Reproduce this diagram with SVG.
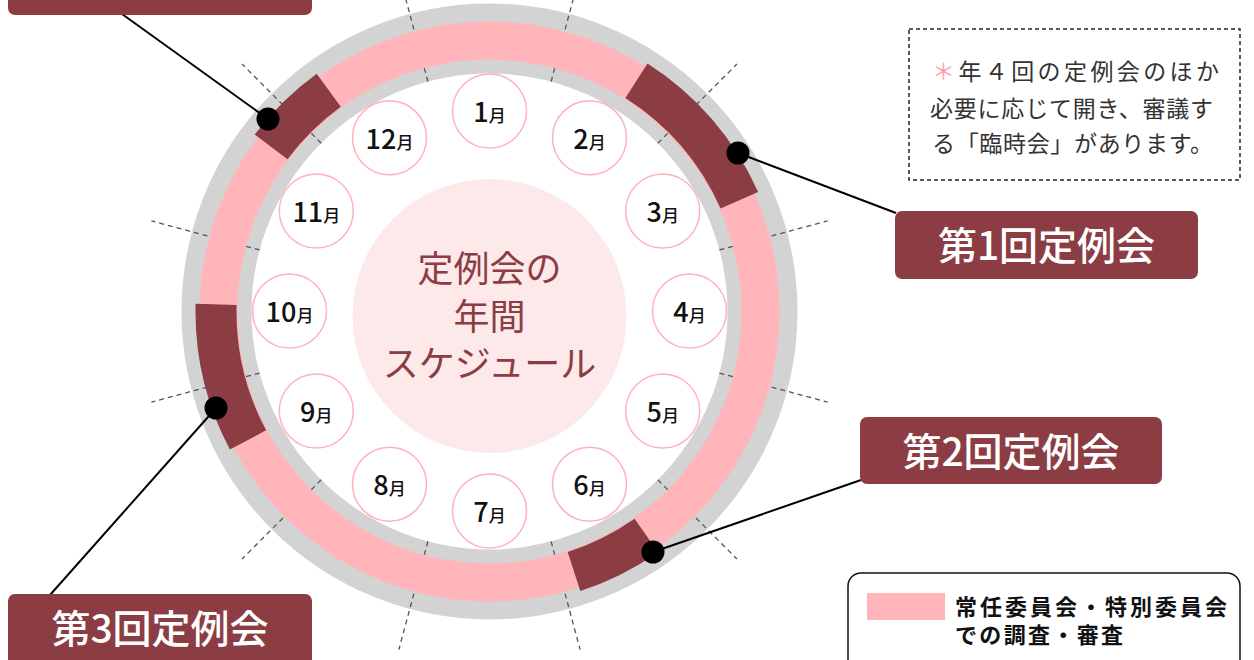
<svg xmlns="http://www.w3.org/2000/svg" width="1254" height="660" viewBox="0 0 1254 660">
<style>
text{font-family:"Noto Sans CJK JP","Noto Sans",sans-serif}
.tick{stroke:#555;stroke-width:1.3;stroke-dasharray:5 4;fill:none}
.seg{fill:#8B3D43}
.mon{fill:#fff;stroke:#FFB3B8;stroke-width:1.5}
.ml{font-size:27px;font-weight:500;fill:#111;text-anchor:middle}
.ml tspan.m{font-size:17px}
.box{fill:#8B3D43}
.bt{font-size:39px;font-weight:500;fill:#fff;text-anchor:middle}
.conn{stroke:#000;stroke-width:2;fill:none}
.note{font-size:23px;fill:#333}
</style>
<rect width="1254" height="660" fill="#fff"/>
<g id="ring">
<circle cx="489.5" cy="311.5" r="273" fill="none" stroke="#D3D3D3" stroke-width="70"/>
</g>
<g id="ticks">
<line class="tick" x1="551.1" y1="81.6" x2="580.1" y2="-26.6"/>
<line class="tick" x1="657.8" y1="143.2" x2="737" y2="64"/>
<line class="tick" x1="719.4" y1="249.9" x2="827.6" y2="220.9"/>
<line class="tick" x1="719.4" y1="373.1" x2="827.6" y2="402.1"/>
<line class="tick" x1="657.8" y1="479.8" x2="737" y2="559"/>
<line class="tick" x1="551.1" y1="541.4" x2="580.1" y2="649.6"/>
<line class="tick" x1="427.9" y1="541.4" x2="398.9" y2="649.6"/>
<line class="tick" x1="321.2" y1="479.8" x2="242" y2="559"/>
<line class="tick" x1="259.6" y1="373.1" x2="151.4" y2="402.1"/>
<line class="tick" x1="259.6" y1="249.9" x2="151.4" y2="220.9"/>
<line class="tick" x1="321.2" y1="143.2" x2="242" y2="64"/>
<line class="tick" x1="427.9" y1="81.6" x2="398.9" y2="-26.6"/>
</g>
<g id="pink-band">
<circle cx="489.5" cy="311.5" r="271" fill="none" stroke="#FFB5BA" stroke-width="38"/>
</g>
<g id="segments">
<path class="seg" d="M254.7 134.6 A294 294 0 0 1 316.7 73.7 L340.8 106.8 A253 253 0 0 0 287.5 159.2 Z"/>
<path class="seg" d="M647.5 63.5 A294 294 0 0 1 758.1 191.9 L720.6 208.6 A253 253 0 0 0 625.4 98.1 Z"/>
<path class="seg" d="M658.1 552.3 A294 294 0 0 1 580.3 591.1 L567.7 552.1 A253 253 0 0 0 634.6 518.8 Z"/>
<path class="seg" d="M229.9 449.5 A294 294 0 0 1 195.6 303.8 L236.6 304.9 A253 253 0 0 0 266.1 430.3 Z"/>
</g>
<g id="center">
<circle cx="489.5" cy="316" r="137" fill="#FDE8EA"/>
<text x="489.5" y="282" font-size="36" fill="#8B3D43" text-anchor="middle">定例会の</text>
<text x="489.5" y="330" font-size="36" fill="#8B3D43" text-anchor="middle">年間</text>
<text x="489.5" y="377" font-size="36" fill="#8B3D43" text-anchor="middle">スケジュール</text>
</g>
<g id="months">
<g id="m1"><circle class="mon" cx="489.5" cy="111" r="37"/><text class="ml" x="489.5" y="122">1<tspan class="m">月</tspan></text></g>
<g id="m2"><circle class="mon" cx="589.5" cy="137.8" r="37"/><text class="ml" x="589.5" y="148.8">2<tspan class="m">月</tspan></text></g>
<g id="m3"><circle class="mon" cx="662.7" cy="211" r="37"/><text class="ml" x="662.7" y="222">3<tspan class="m">月</tspan></text></g>
<g id="m4"><circle class="mon" cx="689.5" cy="311" r="37"/><text class="ml" x="689.5" y="322">4<tspan class="m">月</tspan></text></g>
<g id="m5"><circle class="mon" cx="662.7" cy="411" r="37"/><text class="ml" x="662.7" y="422">5<tspan class="m">月</tspan></text></g>
<g id="m6"><circle class="mon" cx="589.5" cy="484.2" r="37"/><text class="ml" x="589.5" y="495.2">6<tspan class="m">月</tspan></text></g>
<g id="m7"><circle class="mon" cx="489.5" cy="511" r="37"/><text class="ml" x="489.5" y="522">7<tspan class="m">月</tspan></text></g>
<g id="m8"><circle class="mon" cx="389.5" cy="484.2" r="37"/><text class="ml" x="389.5" y="495.2">8<tspan class="m">月</tspan></text></g>
<g id="m9"><circle class="mon" cx="316.3" cy="411" r="37"/><text class="ml" x="316.3" y="422">9<tspan class="m">月</tspan></text></g>
<g id="m10"><circle class="mon" cx="289.5" cy="311" r="37"/><text class="ml" x="289.5" y="322">10<tspan class="m">月</tspan></text></g>
<g id="m11"><circle class="mon" cx="316.3" cy="211" r="37"/><text class="ml" x="316.3" y="222">11<tspan class="m">月</tspan></text></g>
<g id="m12"><circle class="mon" cx="389.5" cy="137.8" r="37"/><text class="ml" x="389.5" y="148.8">12<tspan class="m">月</tspan></text></g>
</g>
<g id="connectors">
<line class="conn" x1="122" y1="14" x2="268" y2="119"/>
<line class="conn" x1="738" y1="153" x2="896" y2="213"/>
<line class="conn" x1="653" y1="552" x2="861" y2="480"/>
<line class="conn" x1="216" y1="408" x2="50" y2="595"/>
<circle cx="268" cy="119" r="11.5" fill="#000"/>
<circle cx="738" cy="153" r="11.5" fill="#000"/>
<circle cx="653" cy="552" r="11.5" fill="#000"/>
<circle cx="216" cy="408" r="11.5" fill="#000"/>
</g>
<g id="label4"><rect class="box" x="8" y="-52" width="304" height="67" rx="7"/></g>
<g id="label1"><rect class="box" x="895" y="211" width="303" height="68" rx="7"/><text class="bt" x="1046.5" y="260">第1回定例会</text></g>
<g id="label2"><rect class="box" x="860" y="417" width="302" height="67" rx="7"/><text class="bt" x="1011" y="466">第2回定例会</text></g>
<g id="label3"><rect class="box" x="8" y="594" width="304" height="76" rx="7"/><text class="bt" x="160" y="643">第3回定例会</text></g>
<g id="note">
<rect x="909" y="29" width="331" height="151" fill="none" stroke="#222" stroke-width="1.5" stroke-dasharray="4 3"/>
<text class="note" x="932" y="80" textLength="287" lengthAdjust="spacing"><tspan fill="#FFA0A8">＊</tspan>年４回の定例会のほか</text>
<text class="note" x="930" y="117" textLength="283" lengthAdjust="spacing">必要に応じて開き、審議す</text>
<text class="note" x="932" y="152" textLength="281" lengthAdjust="spacing">る「臨時会」があります。</text>
</g>
<g id="legend">
<rect x="848" y="573" width="392" height="100" rx="13" fill="#fff" stroke="#111" stroke-width="1.5"/>
<rect x="867" y="593" width="78" height="27" fill="#FFB5BA"/>
<text x="955" y="615" font-size="22" font-weight="bold" fill="#111" textLength="272" lengthAdjust="spacing">常任委員会・特別委員会</text>
<text x="955" y="643" font-size="22" font-weight="bold" fill="#111" textLength="168" lengthAdjust="spacing">での調査・審査</text>
</g>
</svg>
